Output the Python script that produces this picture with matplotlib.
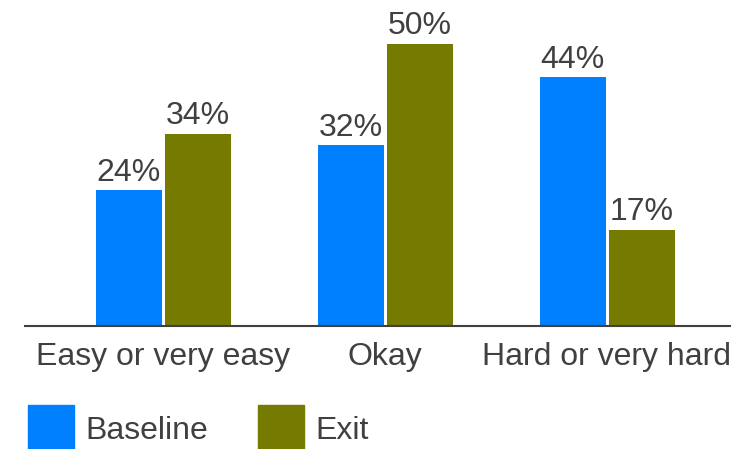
import numpy as np
import matplotlib
matplotlib.use("Agg")
import matplotlib.pyplot as plt
from matplotlib.patches import Rectangle

categories = ['Easy or very easy', 'Okay', 'Hard or very hard']
baseline = [24, 32, 44]
exit_vals = [34, 50, 17]
series_names = ['Baseline', 'Exit']

blue = '#0080FF'
olive = '#757A00'
txt = '#404040'

plt.rcParams['font.family'] = ['Liberation Sans', 'DejaVu Sans']

fig = plt.figure(figsize=(7.48, 4.49), dpi=100)
W, H = 748, 449
ax = fig.add_axes([25 / W, 1 - 325.5 / H, 705 / W, 325.5 / H])

x = np.arange(len(categories))
w = 66 / 222
off = 34.5 / 222
b1 = ax.bar(x - off, baseline, w, color=blue, label=series_names[0])
b2 = ax.bar(x + off, exit_vals, w, color=olive, label=series_names[1])

for bars, vals in [(b1, baseline), (b2, exit_vals)]:
    for rect, v in zip(bars, vals):
        ax.text(rect.get_x() + rect.get_width() / 2, v + 0.4, f'{v}%',
                ha='center', va='bottom', fontsize=23, color=txt)

ax.set_xlim(-(163 - 25) / 222, 2 + (730 - 607) / 222)
ax.set_ylim(0, 325.5 / 5.64)
ax.set_xticks(x)
ax.set_xticklabels(categories, fontsize=23, color=txt)
ax.tick_params(axis='x', length=0, pad=12)
ax.set_yticks([])
for s in ['top', 'right', 'left']:
    ax.spines[s].set_visible(False)
ax.spines['bottom'].set_color('#404040')
ax.spines['bottom'].set_linewidth(1.5)

# legend drawn by hand: square swatch + label
for left, name, col in [(28, series_names[0], blue), (258, series_names[1], olive)]:
    fig.add_artist(Rectangle((left / W, 0), 46 / W, 44 / H, color=col,
                             transform=fig.transFigure))
    fig.text((left + 57) / W, 1 - 439 / H, name, fontsize=23, color=txt,
             ha='left', va='baseline')

fig.savefig('out.png', dpi=100)
